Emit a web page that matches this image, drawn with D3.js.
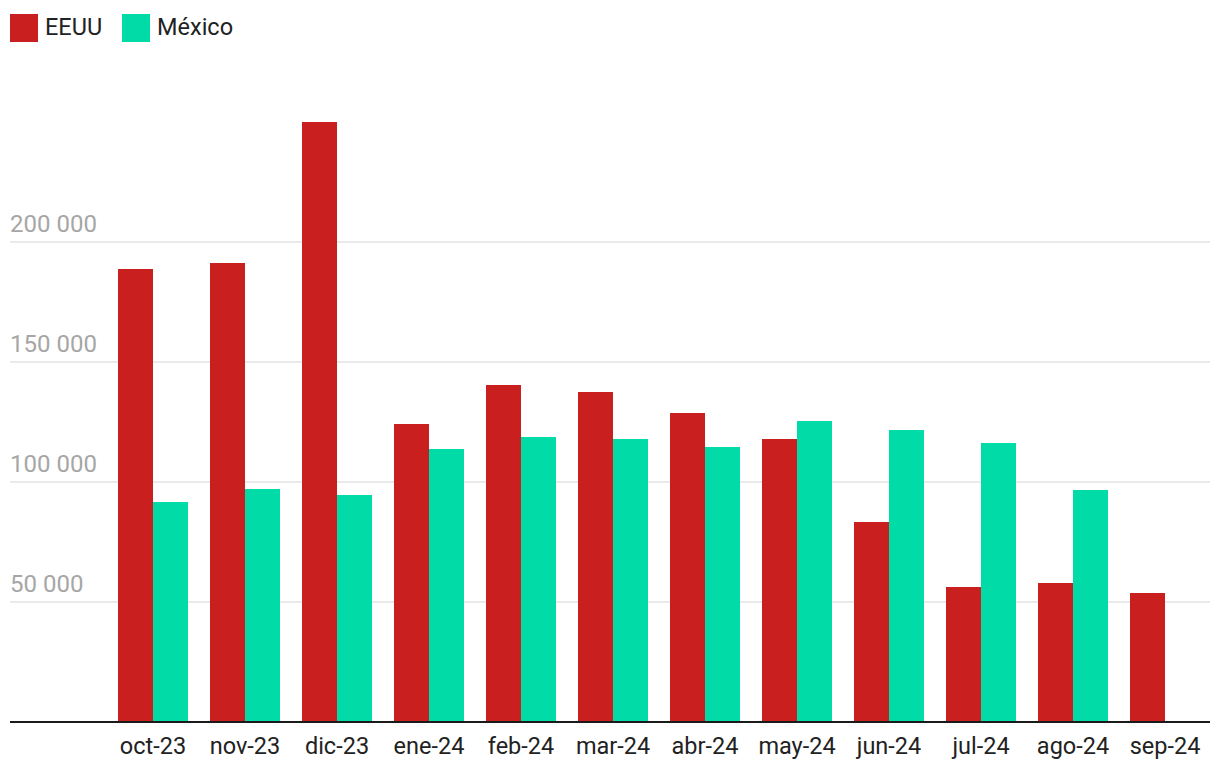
<!DOCTYPE html>
<html>
<head>
<meta charset="utf-8">
<script src="https://cdn.jsdelivr.net/npm/d3@7"></script>
<style>
  body { margin: 0; background: #fff; }
  text { font-family: Roboto, "Noto Sans", sans-serif; }
</style>
</head>
<body>
<div id="wrapper"></div>
<script>
const months = ["oct-23","nov-23","dic-23","ene-24","feb-24","mar-24","abr-24","may-24","jun-24","jul-24","ago-24","sep-24"];
const seriesNames = ["EEUU", "México"];
const eeuu = [188750, 191250, 250000, 124167, 140417, 137500, 128750, 117917, 83333, 56250, 57917, 53750];
const mexico = [91667, 97083, 94583, 113750, 118750, 117917, 114583, 125417, 121667, 116250, 96667, null];
const yTicks = [50000, 100000, 150000, 200000];

function drawChart() {
  const width = 1220;
  const height = 778;

  const colors = { "EEUU": "#c91f1f", "México": "#00dba7" };

  const svg = d3.select("#wrapper")
    .append("svg")
      .attr("width", width)
      .attr("height", height);

  const yScale = d3.scaleLinear()
    .domain([0, 250000])
    .range([722, 122]);

  const xScale = d3.scaleBand()
    .domain(months)
    .range([107, 1211])
    .paddingInner(22 / 92)
    .paddingOuter(11 / 92);

  const xSub = d3.scaleBand()
    .domain(seriesNames)
    .range([0, xScale.bandwidth()]);

  // gridlines + labels
  const fmt = v => d3.format(",")(v).replace(/,/g, " ");
  const grid = svg.append("g");
  yTicks.forEach(t => {
    grid.append("line")
      .attr("x1", 10).attr("x2", 1210)
      .attr("y1", yScale(t)).attr("y2", yScale(t))
      .attr("stroke", "#e3e3e3")
      .attr("stroke-width", 1.5);
    grid.append("text")
      .attr("x", 10)
      .attr("y", yScale(t) - 10)
      .attr("fill", "#a6a6a6")
      .style("font-size", "24px")
      .text(fmt(t));
  });

  // bars
  const data = months.map((m, i) => ({ month: m, values: { "EEUU": eeuu[i], "México": mexico[i] } }));
  const groups = svg.append("g")
    .selectAll("g")
    .data(data)
    .join("g")
      .attr("transform", d => `translate(${xScale(d.month)},0)`);

  groups.selectAll("rect")
    .data(d => seriesNames.map(s => ({ key: s, value: d.values[s] })).filter(e => e.value != null))
    .join("rect")
      .attr("x", e => xSub(e.key))
      .attr("y", e => yScale(e.value))
      .attr("width", xSub.bandwidth())
      .attr("height", e => yScale(0) - yScale(e.value))
      .attr("fill", e => colors[e.key]);

  // baseline
  svg.append("line")
    .attr("x1", 10).attr("x2", 1210)
    .attr("y1", yScale(0)).attr("y2", yScale(0))
    .attr("stroke", "#1a1a1a")
    .attr("stroke-width", 2);

  // x labels
  const xAxis = svg.append("g")
    .attr("transform", `translate(0,${yScale(0)})`)
    .call(d3.axisBottom(xScale).tickSize(0).tickPadding(0));
  xAxis.select(".domain").remove();
  xAxis.selectAll("text")
    .attr("dy", null)
    .attr("y", 32)
    .attr("fill", "#222")
    .style("font-size", "23.5px")
    .style("font-family", "Roboto, sans-serif");

  // legend
  const legend = svg.append("g");
  const legendX = [10, 122];
  seriesNames.forEach((s, i) => {
    legend.append("rect")
      .attr("x", legendX[i]).attr("y", 14)
      .attr("width", 28).attr("height", 28)
      .attr("fill", colors[s]);
    legend.append("text")
      .attr("x", legendX[i] + 35)
      .attr("y", 34.5)
      .attr("fill", "#222")
      .style("font-size", "23.5px")
      .text(s);
  });
}

drawChart();
</script>
</body>
</html>
